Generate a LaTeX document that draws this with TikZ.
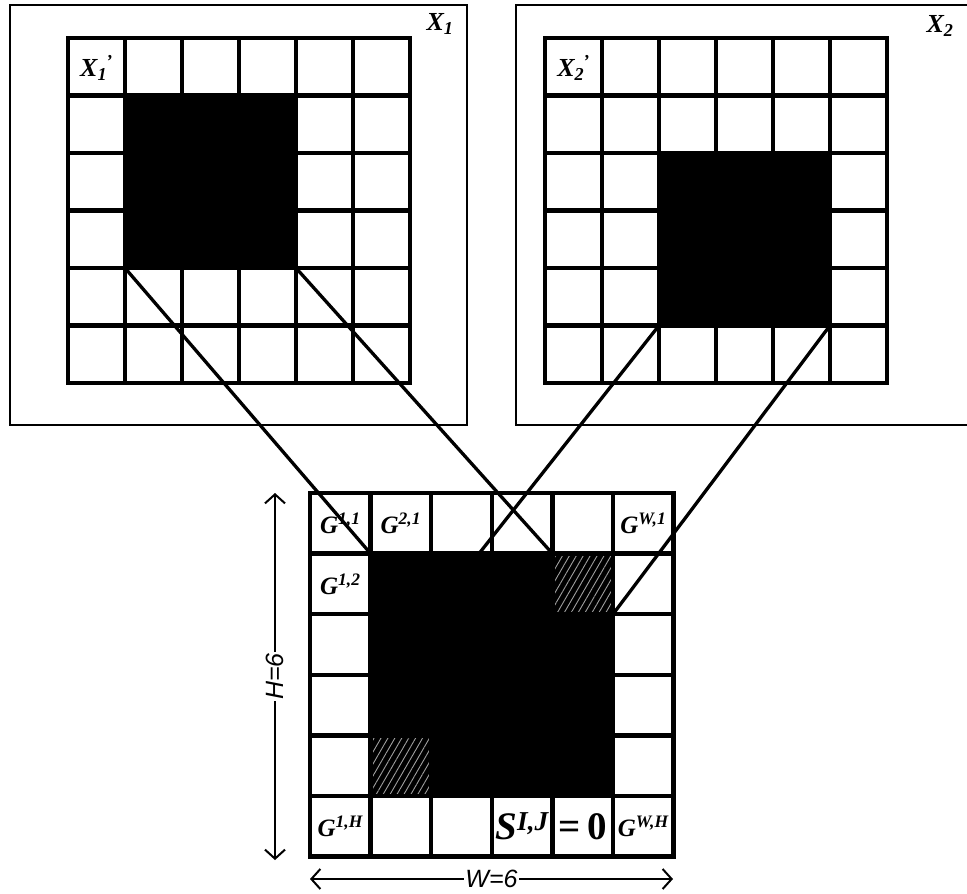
\documentclass[tikz,border=0pt]{standalone}
\usepackage{fontspec}
\setmainfont{Liberation Serif}
\setsansfont{Liberation Sans}
\usetikzlibrary{arrows.meta,patterns.meta}

\begin{document}
\begin{tikzpicture}[x=1pt, y=-1pt,
  frame/.style={draw, line width=1.3pt},
  cellline/.style={line width=4.4pt, line cap=rect},
  link/.style={line width=3.3pt},
  hatch/.style={fill=black, postaction={pattern={Lines[angle=60, distance=6pt, line width=0.9pt]}, pattern color=gray!75}},
  glab/.style={font=\bfseries\itshape\fontsize{25}{25}\selectfont, inner sep=0pt},
  xlab/.style={font=\bfseries\itshape\fontsize{26}{26}\selectfont, inner sep=0pt},
  slab/.style={font=\bfseries\fontsize{39}{39}\selectfont, inner sep=0pt},
  dim/.style={{Straight Barb[length=9pt, width=20pt, line width=2pt]}-{Straight Barb[length=9pt, width=20pt, line width=2pt]}, line width=2.2pt},
  dimlab/.style={font=\sffamily\itshape\fontsize{25}{25}\selectfont, fill=white, inner sep=1pt},
]
\useasboundingbox (0,0) rectangle (967,894);

% outer frames
\draw[frame] (10,5) rectangle (467,425);
\draw[frame] (972,5) -- (516,5) -- (516,425) -- (972,425);
\node[xlab] (x1) at (440,24) {X\textsubscript{1}};
\node[xlab] (x2) at (940,26) {X\textsubscript{2}};

% first input
\begin{scope}[shift={(68,38)}, x=57pt, y=-57.5pt]
  \fill (1,1) rectangle (4,4);
  \foreach \k in {0,...,6} {
    \draw[cellline] (\k,0) -- (\k,6);
    \draw[cellline] (0,\k) -- (6,\k);
  }
  \node[xlab] (x1p) at (0.5,0.52) {X\textsubscript{1}\kern-1pt\textsuperscript{’}};
  \coordinate (l-sw) at (1,4);
  \coordinate (l-se) at (4,4);
\end{scope}

% second input
\begin{scope}[shift={(545,38)}, x=57pt, y=-57.5pt]
  \fill (2,2) rectangle (5,5);
  \foreach \k in {0,...,6} {
    \draw[cellline] (\k,0) -- (\k,6);
    \draw[cellline] (0,\k) -- (6,\k);
  }
  \node[xlab] (x2p) at (0.5,0.52) {X\textsubscript{2}\kern-1pt\textsuperscript{’}};
  \coordinate (r-sw) at (2,5);
  \coordinate (r-se) at (5,5);
\end{scope}

% merged grid
\begin{scope}[shift={(310,493)}, x=60.6pt, y=-60.6pt]
  \fill (1,1) rectangle (5,5);
  \path[hatch] (4,1) rectangle (5,2);
  \path[hatch] (1,4) rectangle (2,5);
  \foreach \k in {0,...,6} {
    \draw[cellline] (\k,0) -- (\k,6);
    \draw[cellline] (0,\k) -- (6,\k);
  }
  \node[glab] (g11) at (0.5,0.5) {G\textsuperscript{1,1}};
  \node[glab] (g21) at (1.5,0.5) {G\textsuperscript{2,1}};
  \node[glab] (gw1) at (5.5,0.5) {G\textsuperscript{W,1}};
  \node[glab] (g12) at (0.5,1.5) {G\textsuperscript{1,2}};
  \node[glab] (g1h) at (0.5,5.5) {G\textsuperscript{1,H}};
  \node[glab] (gwh) at (5.5,5.5) {G\textsuperscript{W,H}};
  \node[slab] (sij) at (3.5,5.5) {\itshape S\textsuperscript{I,J}};
  \node[slab] (zero) at (4.5,5.5) {=\,0};
  \coordinate (a-nw) at (1,1);
  \coordinate (a-ne) at (4,1);
  \coordinate (b-nw) at (2,2);
  \coordinate (b-ne) at (5,2);
\end{scope}

% projections
\draw[link] (l-sw) -- (a-nw);
\draw[link] (l-se) -- (a-ne);
\draw[link] (r-sw) -- (b-nw);
\draw[link] (r-se) -- (b-ne);

% sizes
\coordinate (h-top) at (275,493);
\coordinate (h-bot) at (275,860);
\coordinate (w-lft) at (310,879);
\coordinate (w-rgt) at (673,879);
\draw[dim] (h-top) -- (h-bot) node[midway, dimlab, rotate=90] (hlab) {H=6};
\draw[dim] (w-lft) -- (w-rgt) node[midway, dimlab] (wlab) {W=6};
\end{tikzpicture}
\end{document}
